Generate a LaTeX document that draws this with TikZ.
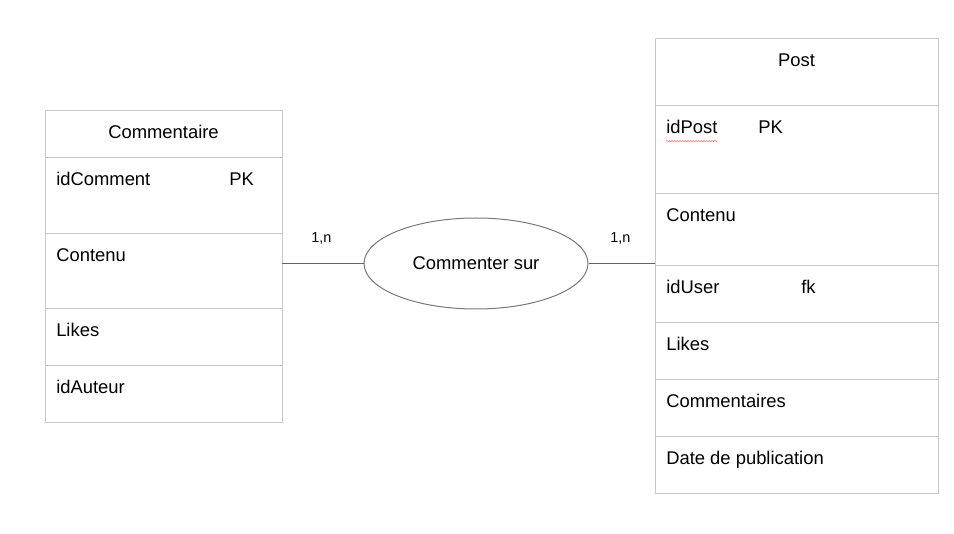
\documentclass[tikz,border=0pt]{standalone}
\usepackage{fontspec}
\setmainfont{Liberation Sans}
\usetikzlibrary{shapes.geometric,decorations.pathmorphing}

\definecolor{boxgray}{RGB}{200,200,200}
\definecolor{ovalgray}{RGB}{120,120,120}
\definecolor{linkgray}{RGB}{100,100,100}

\begin{document}
\begin{tikzpicture}[x=0.75pt,y=-0.75pt]

 \tikzset{
    row/.style={draw=boxgray, line width=0.75pt, rectangle, inner sep=0pt, outer sep=0pt, anchor=north west},
    rowh/.style={minimum height=#1*0.75pt},
    crow/.style={row, minimum width=237*0.75pt},
    prow/.style={row, minimum width=283*0.75pt},
    txt/.style={anchor=base west, inner sep=0pt, font=\fontsize{13.8}{16}\selectfont},
    title/.style={txt, anchor=base},
    card/.style={inner sep=0pt, anchor=base west, font=\fontsize{10.8}{13}\selectfont},
    relation/.style={ellipse, draw=ovalgray, line width=0.75pt, minimum width=224*0.75pt, minimum height=91*0.75pt, inner sep=0pt, font=\fontsize{13.8}{16}\selectfont},
    link/.style={draw=linkgray, line width=0.75pt},
  }

  \useasboundingbox (0,0) rectangle (954,534);

  % Commentaire
  \node[crow, rowh=47] (c0) at (45,111) {};
  \node[crow, rowh=76] (c1) at (45,158) {};
  \node[crow, rowh=75] (c2) at (45,234) {};
  \node[crow, rowh=57] (c3) at (45,309) {};
  \node[crow, rowh=57] (c4) at (45,366) {};
  \node[title] (c0t) at ([yshift=-21pt]c0.north) {Commentaire};
  \node[txt] (c1t) at ([xshift=8.25pt,yshift=-21pt]c1.north west) {idComment};
  \node[txt] (c1k) at ([xshift=138pt,yshift=-21pt]c1.north west) {PK};
  \node[txt] (c2t) at ([xshift=8.25pt,yshift=-21pt]c2.north west) {Contenu};
  \node[txt] (c3t) at ([xshift=8.25pt,yshift=-21pt]c3.north west) {Likes};
  \node[txt] (c4t) at ([xshift=8.25pt,yshift=-21pt]c4.north west) {idAuteur};

  % Post
  \node[prow, rowh=67] (p0) at (655,39) {};
  \node[prow, rowh=88] (p1) at (655,106) {};
  \node[prow, rowh=72] (p2) at (655,194) {};
  \node[prow, rowh=57] (p3) at (655,266) {};
  \node[prow, rowh=57] (p4) at (655,323) {};
  \node[prow, rowh=57] (p5) at (655,380) {};
  \node[prow, rowh=57] (p6) at (655,437) {};
  \node[title] (p0t) at ([yshift=-21pt]p0.north) {Post};
  \node[txt] (p1t) at ([xshift=8.25pt,yshift=-21pt]p1.north west) {idPost};
  \node[txt] (p1k) at ([xshift=77.25pt,yshift=-21pt]p1.north west) {PK};
  \node[txt] (p2t) at ([xshift=8.25pt,yshift=-21pt]p2.north west) {Contenu};
  \node[txt] (p3t) at ([xshift=8.25pt,yshift=-21pt]p3.north west) {idUser};
  \node[txt] (p3k) at ([xshift=109.5pt,yshift=-21pt]p3.north west) {fk};
  \node[txt] (p4t) at ([xshift=8.25pt,yshift=-21pt]p4.north west) {Likes};
  \node[txt] (p5t) at ([xshift=8.25pt,yshift=-21pt]p5.north west) {Commentaires};
  \node[txt] (p6t) at ([xshift=8.25pt,yshift=-21pt]p6.north west) {Date de publication};
  \draw[red!55, line width=0.4pt, decorate, decoration={snake, amplitude=0.5pt, segment length=2pt}]
    ([yshift=-5pt]p1t.south west) -- ([yshift=-5pt]p1t.south east);

  % association
  \node[relation] (rel) at (476,263.5) {Commenter sur};
  \node[card] (cardc) at (311,243) {1,n};
  \node[card] (cardp) at (610,243) {1,n};

  \draw[link] (rel.west) -- (rel.west -| c2.east);
  \draw[link] (rel.east) -- (rel.east -| p2.west);
\end{tikzpicture}
\end{document}
